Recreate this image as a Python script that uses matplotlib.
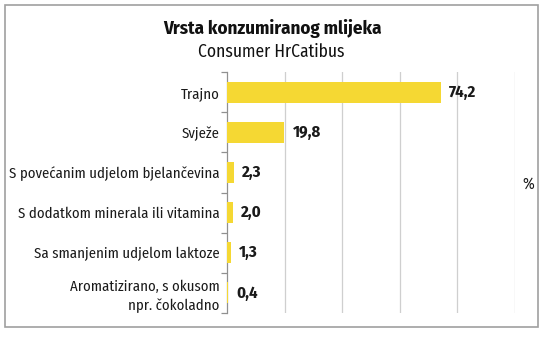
import matplotlib
matplotlib.use("Agg")
import matplotlib.pyplot as plt
from matplotlib.patches import Rectangle

categories = [
    "Trajno",
    "Svježe",
    "S povećanim udjelom bjelančevina",
    "S dodatkom minerala ili vitamina",
    "Sa smanjenim udjelom laktoze",
    "Aromatizirano, s okusom\nnpr. čokoladno",
]
values = [74.2, 19.8, 2.3, 2.0, 1.3, 0.4]
value_labels = ["74,2", "19,8", "2,3", "2,0", "1,3", "0,4"]

plt.rcParams["font.family"] = ["Fira Sans Condensed", "DejaVu Sans"]

W, H = 546, 339
fig = plt.figure(figsize=(W / 100, H / 100), dpi=100)
fig.patch.set_facecolor("white")

# outer frame
fig.patches.append(Rectangle((5 / W, 1 - 327 / H), 533 / W, 322 / H,
                             transform=fig.transFigure, fill=False,
                             edgecolor="#a0a0a0", linewidth=1.2))

ax = fig.add_axes([227 / W, 1 - 313 / H, 288 / W, 241 / H])
n = len(categories)
ypos = list(range(n))
ax.barh(ypos, values, height=0.52, color="#f5d833", zorder=3)
ax.set_xlim(0, 100)
ax.set_ylim(n - 0.5, -0.5)
ax.set_xticks([20, 40, 60, 80, 100])
ax.xaxis.grid(True, color="#cfcfcf", linewidth=0.9, zorder=0)
ax.tick_params(axis="x", length=0, labelbottom=False)
ax.set_yticks(ypos)
ax.set_yticklabels(categories, fontsize=10.6, color="#1a1a1a", linespacing=1.35)
ax.tick_params(axis="y", length=0, pad=5.5)
ax.set_yticks([i + 0.5 for i in range(-1, n)], minor=True)
ax.tick_params(axis="y", which="minor", length=4, color="#909090", width=0.9)
for s in ["top", "right", "bottom"]:
    ax.spines[s].set_visible(False)
ax.spines["left"].set_color("#909090")
ax.spines["left"].set_linewidth(0.9)
for lab in ax.get_yticklabels():
    lab.set_horizontalalignment("right")
    lab.set_multialignment("right")

for y, v, t in zip(ypos, values, value_labels):
    ax.text(v + 3.0, y, t, va="center", ha="left", fontsize=12,
            fontweight="bold", color="#1a1a1a")

fig.text(528 / W, 1 - 184 / H, "%", ha="center", va="center", fontsize=11.5,
         color="#1a1a1a")
fig.text(272 / W, 1 - 29 / H, "Vrsta konzumiranog mlijeka", ha="center",
         va="center", fontsize=13.6, fontweight="bold", color="#111111")
fig.text(271 / W, 1 - 52 / H, "Consumer HrCatibus", ha="center",
         va="center", fontsize=12.6, color="#111111")

fig.savefig("out.png", dpi=100)
